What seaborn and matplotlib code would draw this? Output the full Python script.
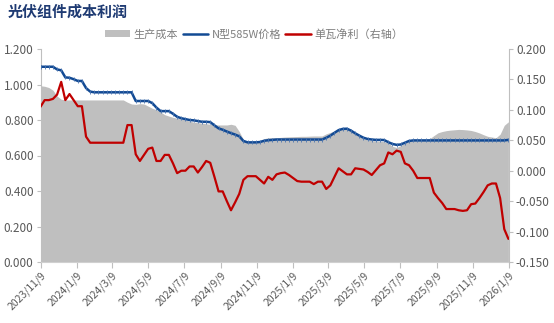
import numpy as np
import pandas as pd
import matplotlib
matplotlib.use("Agg")
import matplotlib.pyplot as plt
import seaborn as sns
from matplotlib.patches import Patch
from matplotlib.lines import Line2D

# ---------------- data ----------------
title = "光伏组件成本利润"
series_names = ["生产成本", "N型585W价格", "单瓦净利（右轴）"]
start_date = "2023-11-09"

cost = [0.993, 0.990, 0.983, 0.968, 0.935, 0.917, 0.913, 0.913, 0.913, 0.913,
        0.913, 0.913, 0.913, 0.913, 0.913, 0.913, 0.913, 0.913, 0.913, 0.913,
        0.913, 0.900, 0.890, 0.888, 0.892, 0.890, 0.878, 0.866, 0.858, 0.845,
        0.830, 0.822, 0.815, 0.810, 0.805, 0.800, 0.793, 0.788, 0.785, 0.782,
        0.779, 0.776, 0.774, 0.772, 0.772, 0.772, 0.776, 0.770, 0.735, 0.690,
        0.678, 0.678, 0.678, 0.678, 0.695, 0.700, 0.700, 0.700, 0.702, 0.704,
        0.705, 0.706, 0.707, 0.708, 0.708, 0.709, 0.710, 0.710, 0.710, 0.722,
        0.730, 0.738, 0.745, 0.748, 0.748, 0.735, 0.720, 0.707, 0.695, 0.687,
        0.684, 0.682, 0.680, 0.678, 0.670, 0.652, 0.645, 0.656, 0.670, 0.682,
        0.685, 0.688, 0.690, 0.692, 0.695, 0.712, 0.728, 0.735, 0.740, 0.743,
        0.745, 0.747, 0.746, 0.744, 0.741, 0.735, 0.727, 0.717, 0.708, 0.704,
        0.700, 0.720, 0.770, 0.790]

price = [1.100, 1.100, 1.100, 1.100, 1.085, 1.080, 1.040, 1.038, 1.030, 1.020,
         1.020, 0.980, 0.960, 0.956, 0.956, 0.956, 0.956, 0.956, 0.956, 0.956,
         0.956, 0.956, 0.956, 0.907, 0.907, 0.907, 0.907, 0.895, 0.870, 0.850,
         0.850, 0.850, 0.835, 0.818, 0.810, 0.805, 0.800, 0.798, 0.794, 0.790,
         0.790, 0.788, 0.770, 0.753, 0.745, 0.735, 0.726, 0.718, 0.708, 0.682,
         0.674, 0.674, 0.674, 0.676, 0.683, 0.686, 0.688, 0.690, 0.690, 0.690,
         0.690, 0.690, 0.690, 0.690, 0.690, 0.690, 0.690, 0.690, 0.690, 0.700,
         0.712, 0.728, 0.743, 0.750, 0.751, 0.740, 0.725, 0.712, 0.700, 0.693,
         0.690, 0.688, 0.688, 0.687, 0.675, 0.665, 0.660, 0.662, 0.672, 0.682,
         0.685, 0.685, 0.685, 0.685, 0.685, 0.685, 0.685, 0.685, 0.685, 0.685,
         0.685, 0.685, 0.685, 0.685, 0.685, 0.685, 0.685, 0.685, 0.685, 0.685,
         0.685, 0.685, 0.685, 0.688]

profit = [0.105, 0.116, 0.116, 0.118, 0.125, 0.146, 0.116, 0.126, 0.116, 0.106,
          0.106, 0.056, 0.046, 0.046, 0.046, 0.046, 0.046, 0.046, 0.046, 0.046,
          0.046, 0.075, 0.075, 0.027, 0.016, 0.026, 0.036, 0.038, 0.016, 0.016,
          0.026, 0.026, 0.012, -0.004, 0.000, 0.000, 0.007, 0.007, -0.003, 0.006,
          0.016, 0.013, -0.010, -0.034, -0.034, -0.050, -0.065, -0.052, -0.038, -0.015,
          -0.009, -0.009, -0.009, -0.015, -0.021, -0.010, -0.015, -0.006, -0.004, -0.003,
          -0.007, -0.012, -0.017, -0.018, -0.018, -0.018, -0.022, -0.018, -0.018, -0.030,
          -0.024, -0.010, 0.004, -0.001, -0.006, -0.006, 0.004, 0.003, 0.002, -0.002,
          -0.007, 0.001, 0.009, 0.012, 0.030, 0.027, 0.033, 0.031, 0.012, 0.009,
          0.000, -0.012, -0.012, -0.012, -0.012, -0.036, -0.045, -0.053, -0.063, -0.063,
          -0.063, -0.065, -0.066, -0.065, -0.055, -0.054, -0.045, -0.035, -0.024, -0.021,
          -0.021, -0.045, -0.096, -0.112]

tick_labels = ["2023/11/9", "2024/1/9", "2024/3/9", "2024/5/9", "2024/7/9",
               "2024/9/9", "2024/11/9", "2025/1/9", "2025/3/9", "2025/5/9",
               "2025/7/9", "2025/9/9", "2025/11/9", "2026/1/9"]

left_ticks = [0.0, 0.2, 0.4, 0.6, 0.8, 1.0, 1.2]
right_ticks = [-0.15, -0.10, -0.05, 0.0, 0.05, 0.10, 0.15, 0.20]

# ---------------- styling ----------------
sns.set_style("white")
plt.rcParams["font.family"] = ["Noto Sans CJK SC", "DejaVu Sans"]

C_GRAY = "#bfbfbf"
C_BLUE = "#124a94"
C_RED = "#c00000"
C_TXT = "#595959"
C_AX = "#bfbfbf"

dates = pd.date_range(start_date, periods=len(cost), freq="7D")
df = pd.DataFrame({"date": dates, "cost": cost, "price": price, "profit": profit})
tick_dates = pd.to_datetime(tick_labels, format="%Y/%m/%d")

fig = plt.figure(figsize=(5.54, 3.23), dpi=100)
ax = fig.add_axes([40.5 / 554, 1 - 262 / 323, (509 - 40.5) / 554, (262 - 49) / 323])
ax2 = ax.twinx()

ax.fill_between(df["date"], 0, df["cost"], color=C_GRAY, linewidth=0, zorder=1)
sns.lineplot(data=df, x="date", y="price", ax=ax, color=C_BLUE, linewidth=1.8, zorder=3,
             marker="|", markersize=2.5, markeredgewidth=0.6, markeredgecolor="#4a74b0")
sns.lineplot(data=df, x="date", y="profit", ax=ax2, color=C_RED, linewidth=1.6, zorder=3)

ax.set_xlim(tick_dates[0], tick_dates[-1])
ax.set_ylim(0, 1.2)
ax2.set_ylim(-0.15, 0.20)
ax.set_yticks(left_ticks)
ax.set_yticklabels([f"{v:.3f}" for v in left_ticks])
ax2.set_yticks(right_ticks)
ax2.set_yticklabels([f"{v:.3f}" for v in right_ticks])
ax.set_xticks(tick_dates)
ax.set_xticklabels(tick_labels, rotation=45, ha="right", rotation_mode="anchor")
ax.set_xlabel("")
ax.set_ylabel("")
ax2.set_ylabel("")
ax2.set_xlabel("")

for a in (ax, ax2):
    for s in a.spines.values():
        s.set_visible(False)
ax.spines["left"].set_visible(True)
ax.spines["left"].set_color(C_AX)
ax.spines["bottom"].set_visible(True)
ax.spines["bottom"].set_color("#d0d0d0")
ax2.spines["right"].set_visible(True)
ax2.spines["right"].set_color(C_AX)

ax.tick_params(axis="y", which="both", left=True, length=3, width=0.8, color=C_AX,
               labelsize=8.5, labelcolor=C_TXT, pad=2)
ax.tick_params(axis="x", which="both", bottom=True, length=4, width=0.8, color=C_AX,
               labelsize=7.5, labelcolor=C_TXT, pad=2)
ax2.tick_params(axis="y", which="both", right=True, length=3, width=0.8, color=C_AX,
                labelsize=8.5, labelcolor=C_TXT, pad=2)
ax.set_zorder(ax2.get_zorder() - 1)
ax.patch.set_visible(True)
ax2.patch.set_visible(False)

fig.text(8 / 554, 1 - 12 / 323, title, fontsize=10.8, fontweight="bold",
         color="#1f3b73", ha="left", va="center")

handles = [Patch(facecolor=C_GRAY, edgecolor="none"),
           Line2D([], [], color=C_BLUE, linewidth=1.8),
           Line2D([], [], color=C_RED, linewidth=1.8)]
fig.legend(handles, series_names, loc="center", bbox_to_anchor=(254 / 554, 1 - 34 / 323),
           ncol=3, frameon=False, fontsize=8, labelcolor="#7f7f7f",
           handlelength=2.3, handleheight=0.6, handletextpad=0.3, columnspacing=0.4)

fig.savefig("out.png", dpi=100)
